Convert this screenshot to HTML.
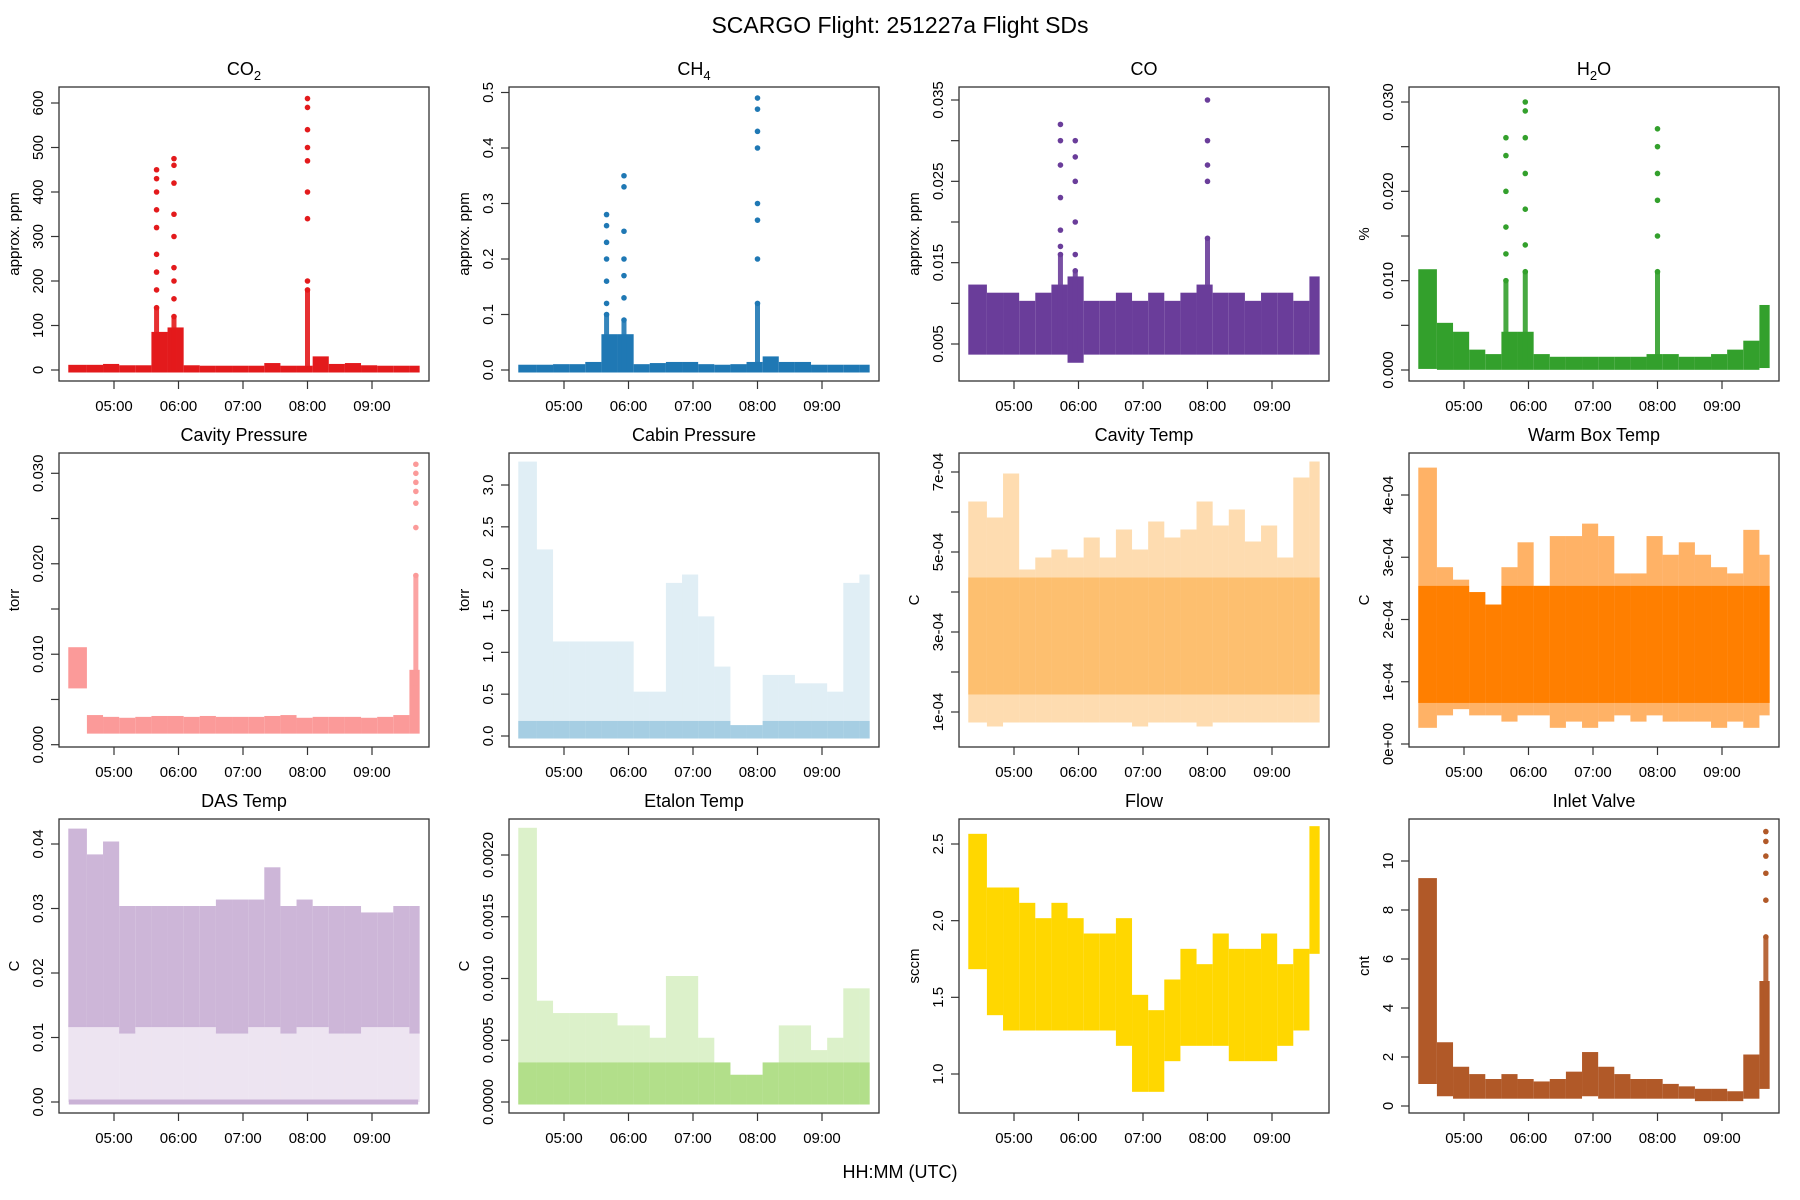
<!DOCTYPE html>
<html><head><meta charset="utf-8"><title>SCARGO Flight SDs</title>
<style>
html,body{margin:0;padding:0;background:#fff;}
svg{display:block;font-family:"Liberation Sans",Arial,sans-serif;}
</style></head>
<body>
<svg id="fig" width="1800" height="1200" viewBox="0 0 1800 1200" xmlns="http://www.w3.org/2000/svg">
<rect x="0" y="0" width="1800" height="1200" fill="#fff"/>
<text x="900" y="33" font-size="23" text-anchor="middle">SCARGO Flight: 251227a  Flight SDs</text>
<text x="900" y="1178" font-size="18" text-anchor="middle">HH:MM (UTC)</text>
</svg>
<script>
// time bins (hours UTC, start of each 15-min bin)
const binStarts = [4.33,4.58,4.83,5.08,5.33,5.58,5.83,6.08,6.33,6.58,6.83,7.08,7.33,7.58,7.83,8.08,8.33,8.58,8.83,9.08,9.33,9.58];
const xTickValues = [5,6,7,8,9];
const xTickLabels = ["05:00","06:00","07:00","08:00","09:00"];

// CO2 (approx. ppm)
const co2Lo = [0,0,0,0,0,0,0,0,0,0,0,0,0,0,0,0,0,0,0,0,0,0];
const co2Hi = [6,6,8,5,5,80,90,5,4,4,4,4,10,4,4,25,8,10,5,4,4,4];
const co2SpikeT = [5.66,5.66,5.66,5.66,5.66,5.66,5.66,5.66,5.66,5.93,5.93,5.93,5.93,5.93,5.93,5.93,5.93,5.93,8.0,8.0,8.0,8.0,8.0,8.0,8.0,8.0,8.0];
const co2SpikeV = [450,430,400,360,320,260,220,180,140,475,460,420,350,300,230,200,160,120,610,590,540,500,470,400,340,200,180];
// CH4 (approx. ppm)
const ch4Lo = [0,0,0,0,0,0,0,0,0,0,0,0,0,0,0,0,0,0,0,0,0,0];
const ch4Hi = [0.005,0.005,0.006,0.006,0.01,0.06,0.06,0.006,0.008,0.01,0.01,0.006,0.005,0.006,0.01,0.02,0.01,0.01,0.005,0.005,0.005,0.005];
const ch4SpikeT = [5.66,5.66,5.66,5.66,5.66,5.66,5.66,5.93,5.93,5.93,5.93,5.93,5.93,5.93,8.0,8.0,8.0,8.0,8.0,8.0,8.0,8.0];
const ch4SpikeV = [0.28,0.26,0.23,0.2,0.16,0.12,0.1,0.35,0.33,0.25,0.2,0.17,0.13,0.09,0.49,0.47,0.43,0.4,0.3,0.27,0.2,0.12];
// CO (approx. ppm)
const coLo = [0.004,0.004,0.004,0.004,0.004,0.004,0.003,0.004,0.004,0.004,0.004,0.004,0.004,0.004,0.004,0.004,0.004,0.004,0.004,0.004,0.004,0.004];
const coHi = [0.012,0.011,0.011,0.010,0.011,0.012,0.013,0.010,0.010,0.011,0.010,0.011,0.010,0.011,0.012,0.011,0.011,0.010,0.011,0.011,0.010,0.013];
const coSpikeT = [5.72,5.72,5.72,5.72,5.72,5.72,5.72,5.95,5.95,5.95,5.95,5.95,5.95,8.0,8.0,8.0,8.0,8.0];
const coSpikeV = [0.032,0.030,0.027,0.023,0.019,0.017,0.016,0.030,0.028,0.025,0.020,0.016,0.014,0.035,0.030,0.027,0.025,0.018];
// H2O (%)
const h2oLo = [0.0004,0.0003,0.0003,0.0003,0.0003,0.0003,0.0003,0.0003,0.0003,0.0003,0.0003,0.0003,0.0003,0.0003,0.0003,0.0003,0.0003,0.0003,0.0003,0.0003,0.0003,0.0005];
const h2oHi = [0.011,0.005,0.004,0.002,0.0015,0.004,0.004,0.0015,0.0012,0.0012,0.0012,0.0012,0.0012,0.0012,0.0015,0.0015,0.0012,0.0012,0.0015,0.002,0.003,0.007];
const h2oSpikeT = [5.65,5.65,5.65,5.65,5.65,5.65,5.95,5.95,5.95,5.95,5.95,5.95,5.95,8.0,8.0,8.0,8.0,8.0,8.0];
const h2oSpikeV = [0.026,0.024,0.02,0.016,0.013,0.01,0.030,0.029,0.026,0.022,0.018,0.014,0.011,0.027,0.025,0.022,0.019,0.015,0.011];
// Cavity Pressure (torr)
const cavpLo = [0.0065,0.0015,0.0015,0.0015,0.0015,0.0015,0.0015,0.0015,0.0015,0.0015,0.0015,0.0015,0.0015,0.0015,0.0015,0.0015,0.0015,0.0015,0.0015,0.0015,0.0015,0.0015];
const cavpHi = [0.0105,0.003,0.0028,0.0027,0.0028,0.0029,0.0029,0.0028,0.0029,0.0028,0.0028,0.0028,0.0029,0.0030,0.0027,0.0028,0.0028,0.0028,0.0027,0.0028,0.0030,0.0080];
const cavpSpikeT = [9.68,9.68,9.68,9.68,9.68,9.68,9.68];
const cavpSpikeV = [0.031,0.030,0.029,0.028,0.0267,0.024,0.0187];
// Cabin Pressure (torr)
const cabLo = [0,0,0,0,0,0,0,0,0,0,0,0,0,0,0,0,0,0,0,0,0,0];
const cabHi = [3.25,2.2,1.1,1.1,1.1,1.1,1.1,0.5,0.5,1.8,1.9,1.4,0.8,0.1,0.1,0.7,0.7,0.6,0.6,0.5,1.8,1.9];
// Cavity Temp (C)
const cavtLo = [0.8e-4,0.7e-4,0.8e-4,0.8e-4,0.8e-4,0.8e-4,0.8e-4,0.8e-4,0.8e-4,0.8e-4,0.7e-4,0.8e-4,0.8e-4,0.8e-4,0.7e-4,0.8e-4,0.8e-4,0.8e-4,0.8e-4,0.8e-4,0.8e-4,0.8e-4];
const cavtHi = [6.2e-4,5.8e-4,6.9e-4,4.5e-4,4.8e-4,5.0e-4,4.8e-4,5.3e-4,4.8e-4,5.5e-4,5.0e-4,5.7e-4,5.3e-4,5.5e-4,6.2e-4,5.6e-4,6.0e-4,5.2e-4,5.6e-4,4.8e-4,6.8e-4,7.2e-4];
// Warm Box Temp (C)
const wbLo = [0.3e-4,0.5e-4,0.6e-4,0.5e-4,0.5e-4,0.4e-4,0.5e-4,0.5e-4,0.3e-4,0.4e-4,0.3e-4,0.4e-4,0.5e-4,0.4e-4,0.5e-4,0.4e-4,0.4e-4,0.4e-4,0.3e-4,0.4e-4,0.3e-4,0.5e-4];
const wbHi = [4.4e-4,2.8e-4,2.6e-4,2.4e-4,2.2e-4,2.8e-4,3.2e-4,2.5e-4,3.3e-4,3.3e-4,3.5e-4,3.3e-4,2.7e-4,2.7e-4,3.3e-4,3.0e-4,3.2e-4,3.0e-4,2.8e-4,2.7e-4,3.4e-4,3.0e-4];
// DAS Temp (C)
const dasLo = [0.012,0.012,0.012,0.011,0.012,0.012,0.012,0.012,0.012,0.011,0.011,0.012,0.012,0.011,0.012,0.012,0.011,0.011,0.012,0.012,0.012,0.011];
const dasHi = [0.042,0.038,0.040,0.030,0.030,0.030,0.030,0.030,0.030,0.031,0.031,0.031,0.036,0.030,0.031,0.030,0.030,0.030,0.029,0.029,0.030,0.030];
// Etalon Temp (C)
const etLo = [0,0,0,0,0,0,0,0,0,0,0,0,0,0,0,0,0,0,0,0,0,0];
const etHi = [0.0022,0.0008,0.0007,0.0007,0.0007,0.0007,0.0006,0.0006,0.0005,0.0010,0.0010,0.0005,0.0003,0.0002,0.0002,0.0003,0.0006,0.0006,0.0004,0.0005,0.0009,0.0009];
// Flow (sccm)
const flowLo = [1.7,1.4,1.3,1.3,1.3,1.3,1.3,1.3,1.3,1.2,0.9,0.9,1.1,1.2,1.2,1.2,1.1,1.1,1.1,1.2,1.3,1.8];
const flowHi = [2.55,2.2,2.2,2.1,2.0,2.1,2.0,1.9,1.9,2.0,1.5,1.4,1.6,1.8,1.7,1.9,1.8,1.8,1.9,1.7,1.8,2.6];
// Inlet Valve (cnt)
const inLo = [1.0,0.5,0.4,0.4,0.4,0.4,0.4,0.4,0.4,0.4,0.5,0.4,0.4,0.4,0.4,0.4,0.4,0.3,0.3,0.3,0.4,0.8];
const inHi = [9.2,2.5,1.5,1.2,1.0,1.2,1.0,0.9,1.0,1.3,2.1,1.5,1.2,1.0,1.0,0.8,0.7,0.6,0.6,0.5,2.0,5.0];
const inSpikeT = [9.68,9.68,9.68,9.68,9.68,9.68];
const inSpikeV = [11.2,10.8,10.2,9.5,8.4,6.9];

const NS = "http://www.w3.org/2000/svg";
const svg = document.getElementById('fig');
const colLeft = [59,509,959,1409];
const rowTop = [87,453,819];
const W = 370, H = 294;

const panels = [
 {key:'co2', title:'CO', sub:'2', ylab:'approx. ppm', col:0,row:0, color:'#e31a1c', a:[0,370], b:[600,103], ticks:[0,100,200,300,400,500,600], tl:['0','100','200','300','400','500','600'], lo:co2Lo, hi:co2Hi, sT:co2SpikeT, sV:co2SpikeV, op:1},
 {key:'ch4', title:'CH', sub:'4', ylab:'approx. ppm', col:1,row:0, color:'#1f78b4', a:[0,370], b:[0.5,92.5], ticks:[0,0.1,0.2,0.3,0.4,0.5], tl:['0.0','0.1','0.2','0.3','0.4','0.5'], lo:ch4Lo, hi:ch4Hi, sT:ch4SpikeT, sV:ch4SpikeV, op:1},
 {key:'co', title:'CO', ylab:'approx. ppm', col:2,row:0, color:'#6a3d9a', a:[0.005,344], b:[0.035,100], ticks:[0.005,0.015,0.025,0.035], minor:[0.01,0.02,0.03], tl:['0.005','0.015','0.025','0.035'], lo:coLo, hi:coHi, sT:coSpikeT, sV:coSpikeV, op:1},
 {key:'h2o', title:'H', sub:'2', tail:'O', ylab:'%', col:3,row:0, color:'#33a02c', a:[0,370], b:[0.03,102], ticks:[0,0.01,0.02,0.03], minor:[0.005,0.015,0.025], tl:['0.000','0.010','0.020','0.030'], lo:h2oLo, hi:h2oHi, sT:h2oSpikeT, sV:h2oSpikeV, op:1},
 {key:'cavity-pressure', title:'Cavity Pressure', ylab:'torr', col:0,row:1, color:'#fb9a99', a:[0,744.7], b:[0.03,473.3], ticks:[0,0.01,0.02,0.03], minor:[0.005,0.015,0.025], tl:['0.000','0.010','0.020','0.030'], lo:cavpLo, hi:cavpHi, sT:cavpSpikeT, sV:cavpSpikeV, op:1},
 {key:'cabin-pressure', title:'Cabin Pressure', ylab:'torr', col:1,row:1, color:'#a6cee3', a:[0,736], b:[3,485], ticks:[0,0.5,1,1.5,2,2.5,3], tl:['0.0','0.5','1.0','1.5','2.0','2.5','3.0'], lo:cabLo, hi:cabHi, op:0.35, core:0.15},
 {key:'cavity-temp', title:'Cavity Temp', ylab:'C', col:2,row:1, color:'#fdbf6f', a:[1e-4,712], b:[7e-4,472], ticks:[1e-4,3e-4,5e-4,7e-4], minor:[2e-4,4e-4,6e-4], tl:['1e-04','3e-04','5e-04','7e-04'], lo:cavtLo, hi:cavtHi, op:0.55, core:4.3e-4, coreLo:1.5e-4},
 {key:'warm-box-temp', title:'Warm Box Temp', ylab:'C', col:3,row:1, color:'#ff7f00', a:[0,744], b:[4e-4,495], ticks:[0,1e-4,2e-4,3e-4,4e-4], tl:['0e+00','1e-04','2e-04','3e-04','4e-04'], lo:wbLo, hi:wbHi, op:0.6, core:2.5e-4, coreLo:0.7e-4},
 {key:'das-temp', title:'DAS Temp', ylab:'C', col:0,row:2, color:'#cab2d6', a:[0,1102], b:[0.04,844], ticks:[0,0.01,0.02,0.03,0.04], tl:['0.00','0.01','0.02','0.03','0.04'], lo:dasLo, hi:dasHi, op:0.95, sparse:true},
 {key:'etalon-temp', title:'Etalon Temp', ylab:'C', col:1,row:2, color:'#b2df8a', a:[0,1102], b:[0.002,855], ticks:[0,0.0005,0.001,0.0015,0.002], tl:['0.0000','0.0005','0.0010','0.0015','0.0020'], lo:etLo, hi:etHi, op:0.45, core:0.0003},
 {key:'flow', title:'Flow', ylab:'sccm', col:2,row:2, color:'#ffd700', a:[1,1074], b:[2.5,844], ticks:[1,1.5,2,2.5], tl:['1.0','1.5','2.0','2.5'], lo:flowLo, hi:flowHi, op:1},
 {key:'inlet-valve', title:'Inlet Valve', ylab:'cnt', col:3,row:2, color:'#b15928', a:[0,1106], b:[10,861], ticks:[0,2,4,6,8,10], tl:['0','2','4','6','8','10'], lo:inLo, hi:inHi, sT:inSpikeT, sV:inSpikeV, op:1}
];

function mk(tag, attrs, parent){ const e=document.createElementNS(NS,tag); for(const k in attrs) e.setAttribute(k,attrs[k]); (parent||svg).appendChild(e); return e; }

panels.forEach(p=>{
  const L = colLeft[p.col], T = rowTop[p.row];
  const xs = t => L + 55 + (t-5)*64.5;
  const ys = v => p.a[1] + (v-p.a[0])*(p.b[1]-p.a[1])/(p.b[0]-p.a[0]);
  const g = mk('g',{});
  
  
  const tt = mk('text',{x:L+W/2, y:T-12, 'font-size':18, 'text-anchor':'middle'}, g);
  
  
  tt.appendChild(document.createTextNode(p.title));
  if(p.sub){ const s=mk('tspan',{'font-size':13,dy:5},tt); s.textContent=p.sub;
    if(p.tail){ const t2=mk('tspan',{dy:-5},tt); t2.textContent=p.tail; } }
  const dg = mk('g',{}, g);
  
  
  const xEnd = 9.7;
  binStarts.forEach((t,i)=>{
    const t2 = Math.min(binStarts[i+1]!==undefined?binStarts[i+1]:xEnd, xEnd);
    const x1 = xs(t) - (i===0?2.5:0), x2 = xs(t2) + (i===binStarts.length-1?2.5:0);
    if(p.sparse){
      const r0 = mk('rect',{x:x1,y:ys(p.lo[i]),width:x2-x1,height:Math.max(2,ys(0)-ys(p.lo[i])),fill:p.color,opacity:0.35},dg);
      
      
    }
    const yT = ys(p.hi[i]), yB = ys(p.lo[i]);
    const r = mk('rect',{x:x1,y:yT-2.5,width:x2-x1,height:Math.max(5,yB-yT+5),fill:p.color,opacity:p.op},dg);
    
    
    if(p.core!==undefined){
      const cLo = Math.max(p.lo[i], p.coreLo!==undefined?p.coreLo:p.lo[i]);
      const cHi = Math.min(p.hi[i], p.core);
      const yc1 = ys(cHi), yc2 = ys(cLo);
      const rc = mk('rect',{x:x1,y:yc1-2.5,width:x2-x1,height:Math.max(5,yc2-yc1+5),fill:p.color},dg);
      
      
    }
  });
  if(p.sparse){
    const ln = mk('rect',{x:xs(binStarts[0])-2,y:ys(0)-2.5,width:xs(xEnd)-xs(binStarts[0])+3,height:5,fill:p.color},dg);
    
    
  }
  if(p.sT){
    p.sT.forEach((t,i)=>{
      const c = mk('circle',{cx:xs(t),cy:ys(p.sV[i]),r:2.8,fill:p.color},dg);
      
      
    });
    const uniq = [...new Set(p.sT)];
    uniq.forEach(t=>{
      const vals = p.sV.filter((v,i)=>p.sT[i]===t);
      const lowest = Math.min(...vals);
      const l = mk('rect',{x:xs(t)-2.5,y:ys(lowest),width:5,height:Math.max(0,ys(p.lo[0])-ys(lowest)),fill:p.color,opacity:0.9},dg);
      
      
    });
  }
  const bx = mk('rect',{x:L,y:T,width:W,height:H,fill:'none',stroke:'#333','stroke-width':1.3},g);
  
  
  xTickValues.forEach((v,i)=>{
    const x = xs(v);
    const tk = mk('line',{x1:x,y1:T+H,x2:x,y2:T+H+8,stroke:'#333','stroke-width':1.2},g);
    
    
    const lb = mk('text',{x:x,y:T+H+30,'font-size':15,'text-anchor':'middle'},g);
    
    
    lb.textContent = xTickLabels[i];
  });
  const allTicks = p.ticks.concat(p.minor||[]);
  allTicks.forEach(v=>{
    const y = ys(v);
    const tk = mk('line',{x1:L-8,y1:y,x2:L,y2:y,stroke:'#333','stroke-width':1.2},g);
    
    
  });
  p.ticks.forEach((v,i)=>{
    const y = ys(v);
    const lb = mk('text',{x:0,y:0,'font-size':15,'text-anchor':'middle',transform:`translate(${L-16},${y}) rotate(-90)`},g);
    
    
    lb.textContent = p.tl[i];
  });
  const yl = mk('text',{x:0,y:0,'font-size':15,'text-anchor':'middle',transform:`translate(${L-40},${T+H/2}) rotate(-90)`},g);
  
  
  yl.textContent = p.ylab;
});
</script>
</body></html>
